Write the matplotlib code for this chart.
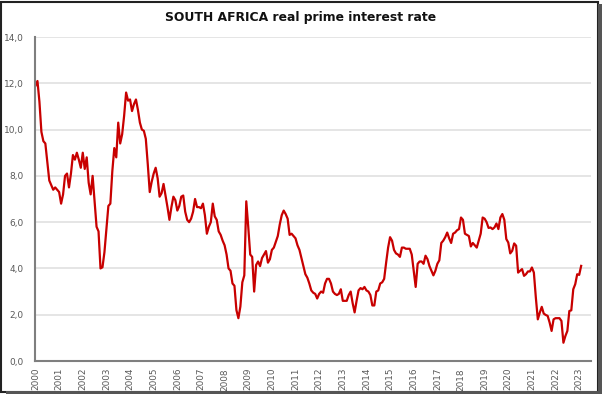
import matplotlib
matplotlib.use("Agg")
import matplotlib.pyplot as plt
import numpy as np
from matplotlib.patches import Rectangle

# Monthly real prime interest rate (%), Jan 2000 onwards
y2000 = [11.9, 12.1, 11.2, 9.9, 9.5, 9.4, 8.6, 7.8, 7.6, 7.4, 7.5, 7.4]
y2001 = [7.3, 6.8, 7.2, 8.0, 8.1, 7.5, 8.1, 8.9, 8.7, 9.0, 8.7, 8.35]
y2002 = [9.0, 8.3, 8.8, 7.7, 7.2, 8.0, 6.9, 5.8, 5.6, 4.0, 4.05, 4.7]
y2003 = [5.7, 6.7, 6.8, 8.2, 9.2, 8.8, 10.3, 9.4, 9.8, 10.6, 11.6, 11.25]
y2004 = [11.3, 10.8, 11.1, 11.3, 10.85, 10.3, 10.0, 9.95, 9.6, 8.5, 7.3, 7.75]
y2005 = [8.1, 8.35, 7.9, 7.1, 7.25, 7.65, 7.15, 6.65, 6.1, 6.65, 7.1, 6.95]
y2006 = [6.5, 6.7, 7.1, 7.15, 6.45, 6.1, 6.0, 6.15, 6.45, 7.0, 6.65, 6.65]
y2007 = [6.6, 6.8, 6.3, 5.5, 5.8, 6.0, 6.8, 6.25, 6.1, 5.6, 5.45, 5.2]
y2008 = [5.0, 4.6, 4.0, 3.9, 3.35, 3.25, 2.2, 1.85, 2.35, 3.4, 3.7, 6.9]
y2009 = [5.8, 4.6, 4.5, 3.0, 4.15, 4.3, 4.1, 4.45, 4.6, 4.75, 4.25, 4.4]
y2010 = [4.8, 4.9, 5.15, 5.4, 5.9, 6.3, 6.5, 6.35, 6.15, 5.45, 5.5, 5.4]
y2011 = [5.3, 5.0, 4.8, 4.45, 4.1, 3.75, 3.6, 3.35, 3.05, 2.95, 2.9, 2.7]
y2012 = [2.9, 3.0, 2.95, 3.35, 3.55, 3.55, 3.35, 3.0, 2.9, 2.85, 2.9, 3.1]
y2013 = [2.6, 2.6, 2.6, 2.85, 3.0, 2.5, 2.1, 2.6, 3.05, 3.15, 3.1, 3.2]
y2014 = [3.05, 3.0, 2.85, 2.4, 2.4, 3.0, 3.05, 3.35, 3.4, 3.55, 4.25, 4.9]
y2015 = [5.35, 5.2, 4.8, 4.65, 4.6, 4.5, 4.9, 4.9, 4.85, 4.85, 4.85, 4.6]
y2016 = [3.9, 3.2, 4.2, 4.3, 4.3, 4.2, 4.55, 4.4, 4.1, 3.9, 3.7, 3.9]
y2017 = [4.2, 4.35, 5.1, 5.2, 5.35, 5.55, 5.3, 5.1, 5.5, 5.55, 5.65, 5.7]
y2018 = [6.2, 6.1, 5.5, 5.45, 5.4, 4.95, 5.1, 5.0, 4.9, 5.2, 5.5, 6.2]
y2019 = [6.15, 6.0, 5.75, 5.77, 5.7, 5.77, 5.94, 5.7, 6.2, 6.35, 6.1, 5.27]
y2020 = [5.12, 4.65, 4.76, 5.08, 4.98, 3.82, 3.9, 3.97, 3.68, 3.75, 3.87, 3.87]
y2021 = [4.04, 3.82, 2.74, 1.8, 2.09, 2.34, 2.05, 1.99, 1.95, 1.66, 1.3, 1.8]
y2022 = [1.85, 1.85, 1.85, 1.73, 0.79, 1.08, 1.3, 2.16, 2.19, 3.1, 3.32, 3.75]
y2023 = [3.72, 4.11]

years = [str(y) for y in range(2000, 2024)]
y_ticks = [0, 2, 4, 6, 8, 10, 12, 14]
y_ticklabels = ["0,0", "2,0", "4,0", "6,0", "8,0", "10,0", "12,0", "14,0"]

series = (y2000 + y2001 + y2002 + y2003 + y2004 + y2005 + y2006 + y2007 +
          y2008 + y2009 + y2010 + y2011 + y2012 + y2013 + y2014 + y2015 +
          y2016 + y2017 + y2018 + y2019 + y2020 + y2021 + y2022 + y2023)
months = np.arange(len(series))

fig = plt.figure(figsize=(6.02, 3.94), dpi=100)
ax = fig.add_axes([35/602, 1-361/394, 556/602, (361-37)/394])

ax.plot(months, series, color="#C80000", lw=1.6, solid_joinstyle="round")

ax.set_ylim(0, 14)
ax.set_xlim(-0.25, 282)
ax.set_yticks(y_ticks)
ax.set_yticklabels(y_ticklabels, fontsize=6.5, color="#595959")
ax.set_xticks(np.arange(0, 12*len(years), 12))
ax.set_xticklabels(years, rotation=90, fontsize=6.4, color="#595959")
ax.tick_params(axis="both", length=0)
ax.tick_params(axis="y", pad=8)
ax.tick_params(axis="x", pad=5)

ax.grid(axis="y", color="#E3E3E3", lw=1.3)
ax.set_axisbelow(True)
for s in ["top", "right"]:
    ax.spines[s].set_visible(False)
for s in ["left", "bottom"]:
    ax.spines[s].set_color("#7F7F7F")
    ax.spines[s].set_linewidth(1.5)

fig.text(0.5, 1-17/394, "SOUTH AFRICA real prime interest rate",
         ha="center", va="center", fontsize=8.9, fontweight="bold", color="#111111")

# frame around the chart
fig.patches.append(Rectangle((0.002, 0.006), 0.991, 0.99, transform=fig.transFigure,
                             fill=False, edgecolor="#222222", lw=1.5))
fig.patches.append(Rectangle((0.993, 0.0), 0.007, 0.99, transform=fig.transFigure,
                             facecolor="#555555", edgecolor="none"))
fig.patches.append(Rectangle((0.01, 0.0), 0.99, 0.008, transform=fig.transFigure,
                             facecolor="#555555", edgecolor="none"))

fig.savefig("out.png", dpi=100)
